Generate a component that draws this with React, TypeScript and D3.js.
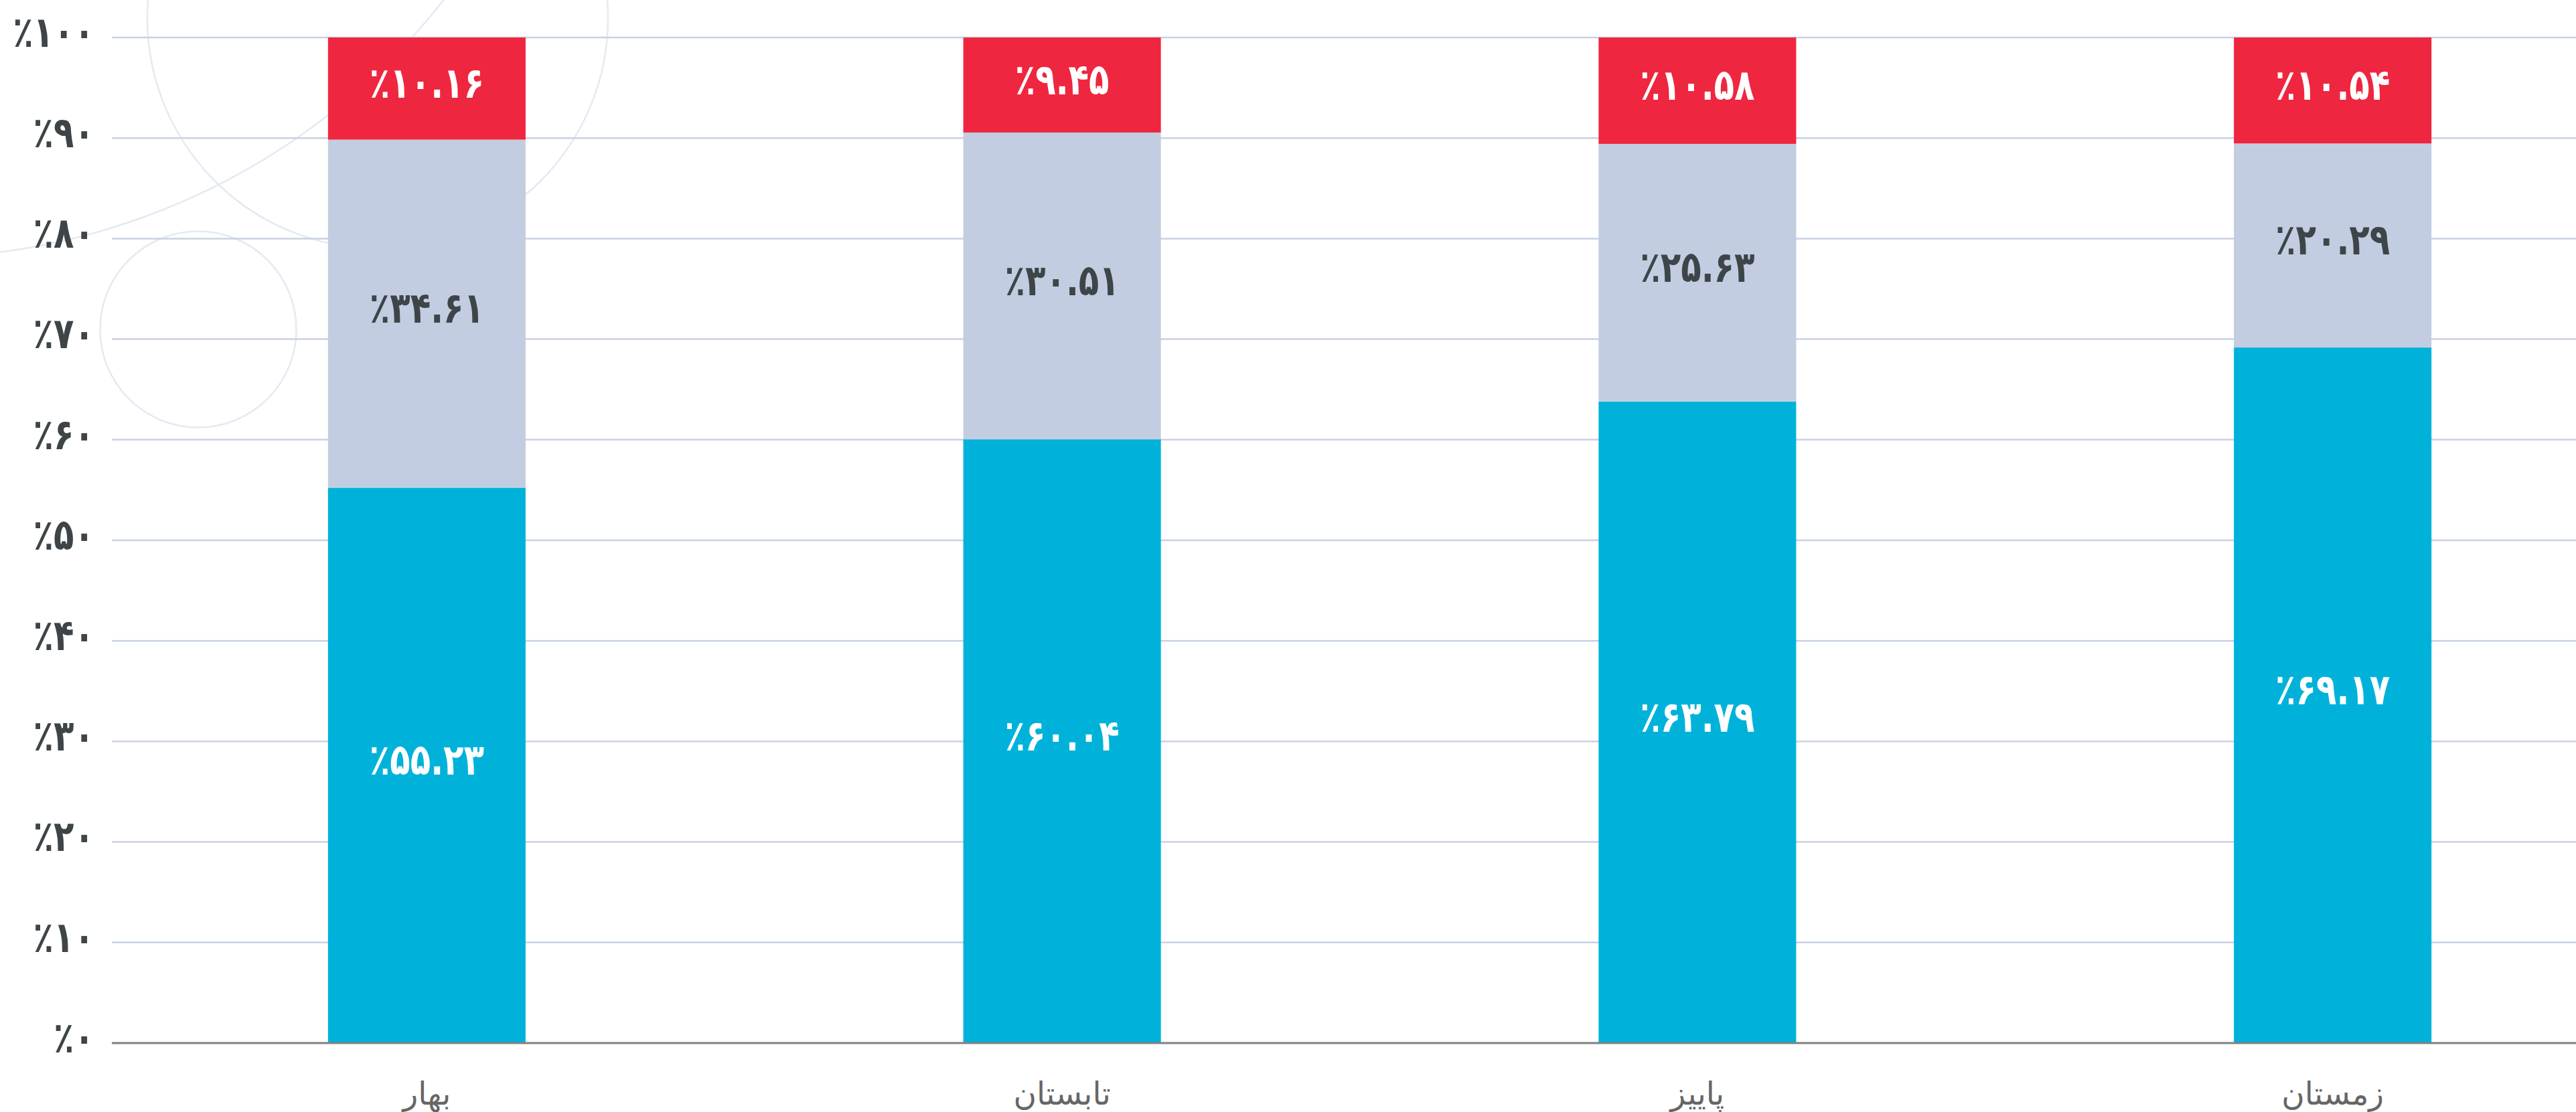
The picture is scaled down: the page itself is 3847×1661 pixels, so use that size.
import React from "react";
import * as d3 from "d3";

const categories = ["بهار", "تابستان", "پاییز", "زمستان"];
const seriesKeys = ["blue", "gray", "red"];
const blueValues = [55.23, 60.04, 63.79, 69.17];
const grayValues = [34.61, 30.51, 25.63, 20.29];
const redValues = [10.16, 9.45, 10.58, 10.54];
const yTicks = [0, 10, 20, 30, 40, 50, 60, 70, 80, 90, 100];

const W = 3847;
const H = 1661;
const FONT = "'DejaVu Sans', sans-serif";

const colors: Record<string, string> = { blue: "#00B2DA", gray: "#C2CDE1", red: "#EF263F" };
const labelColors: Record<string, string> = { blue: "#FFFFFF", gray: "#3E4548", red: "#FFFFFF" };

const faDigits = "۰۱۲۳۴۵۶۷۸۹";
const toFa = (s: string) => s.replace(/[0-9]/g, (d) => faDigits[+d]);

export default function App() {
  const rows = categories.map((c, i) => ({
    cat: c,
    blue: blueValues[i],
    gray: grayValues[i],
    red: redValues[i],
  }));
  const stacked = d3.stack<any>().keys(seriesKeys)(rows);

  const x = d3
    .scaleBand<string>()
    .domain(categories)
    .range([163, 3958])
    .paddingInner(0.689)
    .paddingOuter(0.3445);
  const y = d3.scaleLinear().domain([0, 100]).range([1558, 56]);

  const gridX0 = 167;

  return (
    <svg
      width={W}
      height={H}
      viewBox={`0 0 ${W} ${H}`}
      style={{ position: "absolute", left: 0, top: 0, display: "block", background: "#fff" }}
    >
      <rect x={0} y={0} width={W} height={H} fill="#fff" />
      {/* decorative background circles */}
      <g fill="none" stroke="#E5E9F3" strokeWidth={2.5}>
        <circle cx={564} cy={27} r={344} />
        <circle cx={-130} cy={-623} r={1008} />
        <circle cx={296} cy={492} r={146.5} />
      </g>

      {/* gridlines */}
      <g>
        {yTicks
          .filter((t) => t !== 0)
          .map((t) => (
            <line
              key={t}
              x1={gridX0}
              x2={W}
              y1={y(t)}
              y2={y(t)}
              stroke="#C8D1E4"
              strokeWidth={2.5}
            />
          ))}
      </g>

      {/* y tick labels */}
      <g fontFamily={FONT} fontSize={64} fontWeight="bold" fill="#3E4548" textAnchor="end">
        {yTicks.map((t) => (
          <text
            key={t}
            transform={`translate(141,${y(t) - 8}) scale(0.78,1)`}
            dominantBaseline="central"
            direction="ltr"
          >
            {"٪" + toFa(String(t))}
          </text>
        ))}
      </g>

      {/* bars */}
      {stacked.map((s) => (
        <g key={s.key} fill={colors[s.key]}>
          {s.map((d, i) => (
            <rect
              key={i}
              x={x(categories[i])}
              width={x.bandwidth()}
              y={y(d[1])}
              height={y(d[0]) - y(d[1])}
            />
          ))}
        </g>
      ))}

      {/* baseline */}
      <line x1={gridX0} x2={W} y1={y(0)} y2={y(0)} stroke="#808080" strokeWidth={3} />

      {/* value labels */}
      {stacked.map((s) => (
        <g
          key={"l" + s.key}
          fontFamily={FONT}
          fontSize={64}
          fontWeight="bold"
          fill={labelColors[s.key]}
          textAnchor="middle"
        >
          {s.map((d, i) => {
            const v = d[1] - d[0];
            const cx = (x(categories[i]) as number) + x.bandwidth() / 2;
            const cy = y((d[0] + d[1]) / 2) - 8;
            return (
              <text
                key={i}
                transform={`translate(${cx},${cy}) scale(0.78,1)`}
                dominantBaseline="central"
                direction="ltr"
              >
                {"٪" + toFa(v.toFixed(2))}
              </text>
            );
          })}
        </g>
      ))}

      {/* category labels */}
      <g fontFamily={FONT} fontSize={47} fill="#666666" textAnchor="middle">
        {categories.map((c) => (
          <text key={c} x={(x(c) as number) + x.bandwidth() / 2} y={1650}>
            {c}
          </text>
        ))}
      </g>
    </svg>
  );
}
